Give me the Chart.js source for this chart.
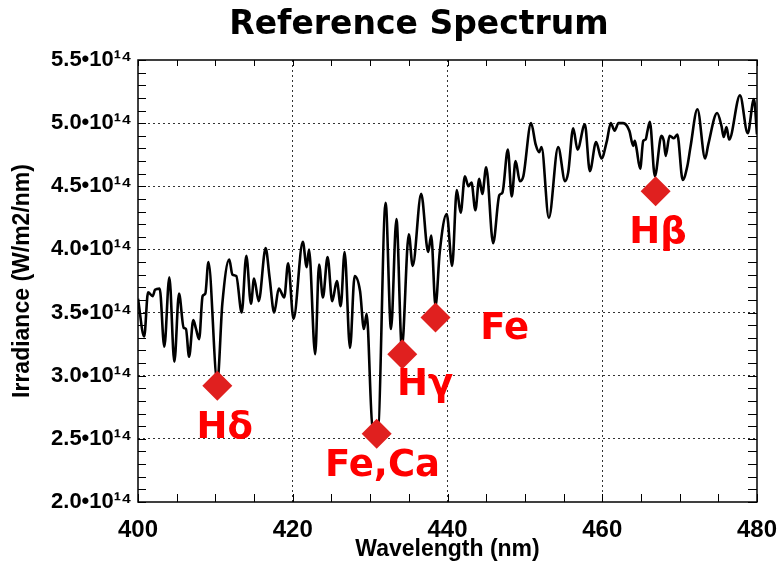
<!DOCTYPE html>
<html>
<head>
<meta charset="utf-8">
<title>Reference Spectrum</title>
<script src="https://cdn.jsdelivr.net/npm/chart.js@4.4.1/dist/chart.umd.min.js"></script>
<style>
  html, body { margin: 0; padding: 0; background: #fff; }
</style>
</head>
<body>
<canvas id="spectrum" width="778" height="561"></canvas>
<script>
// wavelength in nm, irradiance in units of 1e14 W/m2/nm
const wavelength = [
  400.0, 400.8, 401.3, 401.9, 402.2, 402.8, 403.4, 404.05, 404.7, 405.3,
  405.9, 406.2, 406.6, 407.15, 407.5, 407.9, 408.35, 408.7, 409.1, 410.25,
  410.9, 411.8, 412.2, 412.7, 413.4, 414.0, 414.6, 415.0, 415.6, 416.5,
  417.0, 417.6, 418.2, 418.9, 419.4, 420.1, 421.3, 421.8, 422.1, 422.9,
  423.4, 423.9, 424.5, 425.1, 425.7, 426.2, 426.7, 427.4, 428.0, 428.7,
  429.2, 429.55, 430.3, 431.0, 432.0, 432.7, 433.4, 434.1, 435.0, 435.5,
  436.6, 437.5, 437.9, 438.45, 439.0, 439.9, 440.6, 441.2, 441.7, 442.25,
  442.7, 443.1, 443.6, 444.1, 444.5, 445.0, 445.9, 446.7, 447.1, 447.8,
  448.3, 448.8, 449.35, 449.8, 450.8, 451.4, 451.85, 452.15, 453.1, 454.3,
  455.2, 455.6, 456.25, 456.8, 457.75, 458.4, 459.2, 459.9, 460.6, 461.1,
  461.6, 462.1, 462.7, 463.5, 464.0, 464.2, 464.4, 464.9, 465.3, 465.6,
  465.85, 466.15, 466.8, 467.65, 467.95, 468.2, 468.7, 469.25, 469.7, 470.4,
  471.0, 471.4, 472.3, 473.3, 473.7, 474.85, 475.4, 475.7, 476.05, 476.4,
  477.8, 478.8, 479.6, 480.0
];
const irradiance = [
  3.61, 3.31, 3.66, 3.63, 3.68, 3.69, 3.23, 3.78, 3.11, 3.65,
  3.38, 3.37, 3.15, 3.44, 3.37, 3.29, 3.63, 3.65, 3.90, 2.95,
  3.57, 3.92, 3.80, 3.79, 3.50, 3.95, 3.57, 3.77, 3.59, 4.01,
  3.78, 3.50, 3.69, 3.62, 3.89, 3.45, 4.06, 3.86, 4.00, 3.17,
  3.88, 3.62, 3.94, 3.59, 3.75, 3.55, 3.98, 3.22, 3.79, 3.67,
  3.37, 3.49, 2.60, 2.58, 4.37, 3.37, 4.24, 3.22, 4.12, 3.87,
  4.44, 3.98, 4.11, 3.55, 3.98, 4.28, 3.87, 4.47, 4.29, 4.58,
  4.50, 4.53, 4.31, 4.56, 4.44, 4.65, 4.05, 4.43, 4.45, 4.79,
  4.42, 4.70, 4.54, 4.58, 5.00, 4.83, 4.77, 4.81, 4.25, 4.81,
  4.54, 4.61, 4.96, 4.79, 4.99, 4.62, 4.85, 4.72, 4.86, 5.00,
  4.94, 5.00, 5.00, 4.94, 4.82, 4.86, 4.81, 4.64, 4.86, 4.87,
  4.94, 5.01, 4.58, 4.90, 4.86, 4.74, 4.90, 4.88, 4.91, 4.55,
  4.66, 4.81, 5.11, 4.72, 4.83, 5.08, 4.98, 4.89, 4.97, 4.87,
  5.22, 4.92, 5.19, 4.91
];

// marked absorption lines
const lineNames = ['Hδ', 'Fe,Ca', 'Hγ', 'Fe', 'Hβ'];
const lineX = [410.25, 430.85, 434.15, 438.45, 466.9];
const lineY = [2.92, 2.54, 3.17, 3.46, 4.46];
// where each name is written (data units)
const labelX = [411.2, 431.6, 437.1, 447.4, 467.2];
const labelY = [2.58, 2.28, 2.92, 3.37, 4.13];

const E14 = 1e14;
const X_MIN = 400, X_MAX = 480, X_STEP = 20, X_MINOR = 5;
const Y_MIN = 2.0, Y_MAX = 5.5, Y_STEP = 0.5, Y_MINOR = 0.1;

const TICK_FONT = { family: '"Liberation Sans", Arial, sans-serif', weight: 'bold' };

function innerGrid(ctx) {
  const v = ctx.tick.value;
  const s = ctx.scale;
  return (v <= s.min || v >= s.max) ? 'rgba(0,0,0,0)' : '#333';
}

// solid box plus inward tick marks on all four sides
const frame = {
  id: 'frame',
  afterDatasetsDraw(chart) {
    const { ctx, chartArea: a, scales } = chart;
    ctx.save();
    ctx.strokeStyle = '#000';
    ctx.lineWidth = 1;
    ctx.beginPath();
    for (let i = 0; i * X_MINOR <= X_MAX - X_MIN; i++) {
      const px = Math.round(scales.x.getPixelForValue(X_MIN + i * X_MINOR)) + 0.5;
      ctx.moveTo(px, a.bottom); ctx.lineTo(px, a.bottom - 8);
      ctx.moveTo(px, a.top); ctx.lineTo(px, a.top + 6);
    }
    for (let i = 0; i * Y_MINOR <= Y_MAX - Y_MIN + 1e-9; i++) {
      const py = Math.round(scales.y.getPixelForValue((Y_MIN + i * Y_MINOR) * E14)) + 0.5;
      ctx.moveTo(a.left, py); ctx.lineTo(a.left + 8, py);
      ctx.moveTo(a.right, py); ctx.lineTo(a.right - 9, py);
    }
    ctx.stroke();
    ctx.lineWidth = 1.5;
    ctx.strokeRect(a.left, a.top, a.right - a.left, a.bottom - a.top);
    ctx.restore();
  }
};

const lineLabels = {
  id: 'lineLabels',
  afterDatasetsDraw(chart) {
    const { ctx, scales } = chart;
    ctx.save();
    ctx.fillStyle = '#ff0000';
    ctx.font = 'bold 37px "DejaVu Sans", sans-serif';
    ctx.textAlign = 'center';
    ctx.textBaseline = 'middle';
    lineNames.forEach((name, i) => {
      ctx.fillText(name, scales.x.getPixelForValue(labelX[i]), scales.y.getPixelForValue(labelY[i] * E14));
    });
    ctx.restore();
  }
};

const heading = {
  id: 'heading',
  afterDraw(chart) {
    const { ctx } = chart;
    ctx.save();
    ctx.fillStyle = '#000';
    ctx.font = 'bold 33px "DejaVu Sans", sans-serif';
    ctx.textAlign = 'center';
    ctx.textBaseline = 'middle';
    ctx.fillText('Reference Spectrum', 419, 25);
    ctx.restore();
  }
};

new Chart(document.getElementById('spectrum'), {
  data: {
    datasets: [
      {
        type: 'scatter',
        label: 'lines',
        data: lineX.map((x, i) => ({ x, y: lineY[i] * E14 })),
        pointStyle: 'rectRot',
        pointRadius: 15,
        backgroundColor: '#e0201f',
        borderWidth: 0,
        order: 0,
      },
      {
        type: 'line',
        label: 'spectrum',
        data: wavelength.map((x, i) => ({ x, y: irradiance[i] * E14 })),
        borderColor: '#000',
        borderWidth: 2.6,
        pointRadius: 0,
        cubicInterpolationMode: 'monotone',
        fill: false,
        order: 1,
      },
    ],
  },
  options: {
    responsive: false,
    animation: false,
    layout: { padding: { top: 60, right: 21, left: 0, bottom: 0 } },
    scales: {
      x: {
        type: 'linear',
        min: X_MIN,
        max: X_MAX,
        afterFit: (s) => {
          s.height = 59;
          s.paddingLeft = 0;
          s.paddingRight = 0;
        },
        ticks: {
          stepSize: X_STEP,
          padding: 14,
          color: '#000',
          font: { ...TICK_FONT, size: 24 },
        },
        grid: { color: innerGrid, lineWidth: 1, drawTicks: false },
        border: { display: false, dash: [2, 3] },
        title: {
          display: true,
          text: 'Wavelength (nm)',
          color: '#000',
          font: { ...TICK_FONT, size: 23, lineHeight: 1 },
          padding: { top: 0, bottom: 0 },
        },
      },
      y: {
        type: 'linear',
        min: Y_MIN * E14,
        max: Y_MAX * E14,
        afterFit: (s) => { s.width = 138; },
        ticks: {
          stepSize: Y_STEP * E14,
          padding: 6,
          color: '#000',
          font: { ...TICK_FONT, size: 22 },
          callback: (v) => (v / E14).toFixed(1) + '•10¹⁴',
        },
        grid: { color: innerGrid, lineWidth: 1, drawTicks: false },
        border: { display: false, dash: [2, 3] },
        title: {
          display: true,
          text: 'Irradiance (W/m2/nm)',
          color: '#000',
          font: { ...TICK_FONT, size: 23, lineHeight: 1 },
          padding: { top: 11, bottom: 0 },
        },
      },
    },
    plugins: {
      legend: { display: false },
      tooltip: { enabled: false },
      title: { display: false },
    },
  },
  plugins: [frame, lineLabels, heading],
});
</script>
</body>
</html>
